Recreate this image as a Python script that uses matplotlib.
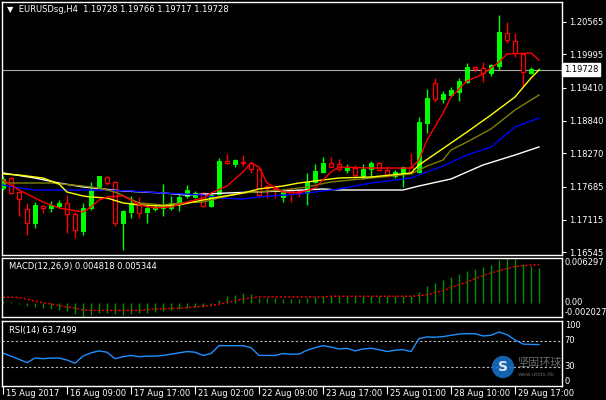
import numpy as np
import matplotlib
matplotlib.use("Agg")
import matplotlib.pyplot as plt
from matplotlib.transforms import ScaledTranslation

plt.rcParams['font.family'] = ['DejaVu Sans']

# --- EURUSD H4 candles (15 Aug 2017 01:00 onward) ---
opens = [1.17666, 1.17840, 1.17596, 1.17300, 1.17056, 1.17352, 1.17318, 1.17352, 1.17405, 1.17213,
         1.16917, 1.17318, 1.17684, 1.17858, 1.17771, 1.17056, 1.17248, 1.17405, 1.17248, 1.17300,
         1.17318, 1.17318, 1.17387, 1.17527, 1.17509, 1.17579, 1.17352, 1.17562, 1.18136, 1.18084,
         1.18115, 1.18102, 1.17997, 1.17701, 1.17684, 1.17509, 1.17631, 1.17614, 1.17579, 1.17771,
         1.17945, 1.18102, 1.18084, 1.17980, 1.18014, 1.17875, 1.17997, 1.18102, 1.17980, 1.17875,
         1.17910, 1.18032, 1.17945, 1.18799, 1.19496, 1.19217, 1.19287, 1.19340, 1.19514, 1.19775,
         1.19758, 1.19671, 1.19793, 1.20368, 1.20228, 1.20002, 1.19671, 1.19728]
highs = [1.17875, 1.17858, 1.17614, 1.17405, 1.17422, 1.17370, 1.17440, 1.17457, 1.17544, 1.17248,
         1.17405, 1.17771, 1.17880, 1.17875, 1.17788, 1.17283, 1.17527, 1.17509, 1.17352, 1.17370,
         1.17736, 1.17527, 1.17579, 1.17718, 1.17614, 1.17596, 1.17579, 1.18189, 1.18258, 1.18171,
         1.18241, 1.18119, 1.18014, 1.17718, 1.17718, 1.17631, 1.17666, 1.17649, 1.17927, 1.18084,
         1.18206, 1.18206, 1.18171, 1.18084, 1.18067, 1.18084, 1.18136, 1.18119, 1.18049, 1.17980,
         1.18049, 1.18276, 1.18904, 1.19392, 1.19583, 1.19357, 1.19427, 1.19583, 1.19845, 1.19793,
         1.19862, 1.19828, 1.20682, 1.20560, 1.20368, 1.20019, 1.19775, 1.19766]
lows = [1.17631, 1.17562, 1.17178, 1.16847, 1.16969, 1.17230, 1.17248, 1.17318, 1.16882, 1.16795,
        1.16847, 1.17283, 1.17666, 1.17718, 1.17004, 1.16586, 1.17143, 1.17143, 1.17056, 1.17265,
        1.17178, 1.17283, 1.17265, 1.17492, 1.17492, 1.17335, 1.17335, 1.17544, 1.18084, 1.18032,
        1.18049, 1.17927, 1.17509, 1.17492, 1.17492, 1.17422, 1.17422, 1.17509, 1.17370, 1.17753,
        1.17927, 1.18030, 1.17962, 1.17927, 1.17840, 1.17823, 1.17858, 1.17962, 1.17858, 1.17840,
        1.17684, 1.17927, 1.17927, 1.18625, 1.19165, 1.19148, 1.19252, 1.19183, 1.19496, 1.19688,
        1.19514, 1.19618, 1.19723, 1.20194, 1.19950, 1.19427, 1.19653, 1.19717]
closes = [1.17823, 1.17579, 1.17474, 1.17056, 1.17370, 1.17318, 1.17370, 1.17405, 1.17213, 1.16934,
          1.17318, 1.17631, 1.17875, 1.17753, 1.17056, 1.17265, 1.17405, 1.17230, 1.17318, 1.17335,
          1.17335, 1.17405, 1.17509, 1.17631, 1.17579, 1.17352, 1.17544, 1.18136, 1.18102, 1.18154,
          1.18102, 1.17997, 1.17544, 1.17666, 1.17649, 1.17596, 1.17562, 1.17579, 1.17771, 1.17962,
          1.18102, 1.18032, 1.17997, 1.18032, 1.17893, 1.17997, 1.18102, 1.17980, 1.17875, 1.17945,
          1.18032, 1.17945, 1.18817, 1.19235, 1.19217, 1.19305, 1.19374, 1.19531, 1.19775, 1.19740,
          1.19671, 1.19810, 1.20385, 1.20246, 1.20019, 1.19688, 1.19740, 1.19728]

# --- moving averages (read at selected bars) ---
red_idx = [0, 2, 5, 7, 10, 11, 12, 13, 15, 16, 17, 19, 21, 23, 25, 26, 28, 30, 31, 32,
           33, 35, 37, 39, 40, 41, 42, 46, 51, 52, 53, 55, 56, 58, 60, 62, 63, 66, 67]
red_val = [1.17806, 1.17631, 1.17422, 1.17318, 1.17248, 1.17335, 1.17457, 1.17509, 1.17527, 1.17457,
           1.17370, 1.17318, 1.17335, 1.17422, 1.17492, 1.17579, 1.17701, 1.17945, 1.18102, 1.18032,
           1.17753, 1.17596, 1.17579, 1.17666, 1.17806, 1.17945, 1.18032, 1.18014, 1.18014, 1.18154,
           1.18503, 1.18973, 1.19252, 1.19531, 1.19653, 1.19862, 1.20002, 1.20019, 1.19897]
yel_idx = [0, 2, 5, 7, 8, 10, 11, 13, 15, 17, 20, 22, 25, 27, 30, 32, 35, 37, 40, 42,
           46, 51, 52, 54, 58, 61, 64, 66, 67]
yel_val = [1.17910, 1.17893, 1.17840, 1.17736, 1.17596, 1.17527, 1.17509, 1.17492, 1.17405, 1.17370,
           1.17352, 1.17370, 1.17457, 1.17509, 1.17579, 1.17649, 1.17701, 1.17753, 1.17806, 1.17840,
           1.17858, 1.17927, 1.18067, 1.18258, 1.18642, 1.18939, 1.19252, 1.19583, 1.19723]
olv_idx = [0, 6, 10, 12, 14, 17, 20, 22, 25, 27, 30, 35, 38, 41, 46, 51, 53, 55, 56, 58, 61, 64, 67]
olv_val = [1.17753, 1.17753, 1.17701, 1.17666, 1.17596, 1.17405, 1.17370, 1.17405, 1.17422, 1.17492,
           1.17579, 1.17631, 1.17684, 1.17771, 1.17840, 1.17910, 1.18049, 1.18154, 1.18329, 1.18468,
           1.18695, 1.19026, 1.19287]
blu_idx = [0, 2, 4, 8, 12, 16, 20, 25, 27, 30, 32, 37, 42, 46, 51, 53, 55, 58, 61, 64, 67]
blu_val = [1.17718, 1.17666, 1.17631, 1.17631, 1.17631, 1.17614, 1.17579, 1.17544, 1.17492, 1.17474,
           1.17509, 1.17562, 1.17649, 1.17753, 1.17840, 1.17945, 1.18049, 1.18241, 1.18381, 1.18729,
           1.18886]
wht_idx = [0, 4, 7, 10, 15, 20, 23, 28, 35, 40, 42, 50, 52, 56, 60, 64, 67]
wht_val = [1.17927, 1.17840, 1.17753, 1.17684, 1.17614, 1.17579, 1.17544, 1.17579, 1.17614, 1.17649,
           1.17631, 1.17631, 1.17701, 1.17823, 1.18067, 1.18241, 1.18381]

# --- MACD(12,26,9) ---
macd = [0.0003, 0.0001, -0.0002, -0.0005, -0.0006, -0.0008, -0.0009, -0.0010, -0.0012, -0.0016,
        -0.0020, -0.0018, -0.0015, -0.0014, -0.0016, -0.0018, -0.0016, -0.0015, -0.0014, -0.0013,
        -0.0012, -0.0011, -0.0009, -0.0007, -0.0006, -0.0006, -0.0004, 0.0004, 0.0009, 0.0011,
        0.0013, 0.0012, 0.0007, 0.0006, 0.0006, 0.0005, 0.0005, 0.0005, 0.0006, 0.0008,
        0.0010, 0.0010, 0.0010, 0.0010, 0.0009, 0.0009, 0.0010, 0.0010, 0.0009, 0.0009,
        0.0010, 0.0009, 0.0015, 0.0023, 0.0028, 0.0032, 0.0036, 0.0040, 0.0045, 0.0048,
        0.0050, 0.0053, 0.0060, 0.006297, 0.0061, 0.0055, 0.0052, 0.004818]
signal = [0.00075, 0.00075, 0.00074, 0.0005, 0.0002, 0.0000, -0.0002, -0.0004, -0.0006, -0.0008,
          -0.0010, -0.0011, -0.0011, -0.0011, -0.0011, -0.0011, -0.0011, -0.0011, -0.0010, -0.0009,
          -0.0009, -0.0008, -0.0008, -0.0007, -0.0006, -0.0005, -0.0004, -0.0002, 0.0000, 0.0003,
          0.0005, 0.0007, 0.0008, 0.0008, 0.0008, 0.0008, 0.0008, 0.0008, 0.0008, 0.0008,
          0.0008, 0.0009, 0.0009, 0.0009, 0.0009, 0.0009, 0.0009, 0.0009, 0.0009, 0.0009,
          0.0009, 0.0009, 0.0010, 0.0011, 0.0014, 0.0017, 0.0021, 0.0025, 0.0029, 0.0034,
          0.0038, 0.0042, 0.0045, 0.0048, 0.0051, 0.0052, 0.0053, 0.005344]

# --- RSI(14) ---
rsi = [50.6, 46, 41, 36, 43, 42, 43, 43, 40, 35,
       46, 51, 54, 52, 42, 45, 47, 45, 46, 46,
       47, 49, 51, 53, 52, 47, 50, 62, 62, 62,
       62, 59, 47, 47, 47, 50, 49, 49, 55, 59,
       62, 60, 57, 58, 54, 57, 58, 56, 53, 55,
       56, 53, 73, 75.5, 75, 76, 78, 80, 80.5, 80.5,
       77, 78, 83, 79, 71, 64.5, 64, 63.7499]

price_ticks = [1.20565, 1.19995, 1.19410, 1.18840, 1.18270, 1.17685, 1.17115, 1.16545]
last_price = 1.19728
time_pos = [0, 8, 16, 24, 32, 40, 48, 56, 64]
time_labels = ['15 Aug 2017', '16 Aug 09:00', '17 Aug 17:00', '21 Aug 02:00', '22 Aug 09:00',
               '23 Aug 17:00', '25 Aug 01:00', '28 Aug 10:00', '29 Aug 17:00']

W, H = 606, 400
fig = plt.figure(figsize=(W / 100, H / 100), dpi=100, facecolor='black')


def pane(x0, y0, x1, y1):
    ax = fig.add_axes([x0 / W, 1 - y1 / H, (x1 - x0) / W, (y1 - y0) / H])
    ax.set_facecolor('black')
    for s in ax.spines.values():
        s.set_color('white')
        s.set_linewidth(1)
    ax.set_xlim(-0.125, 69.875)
    ax.set_xticks([])
    ax.yaxis.tick_right()
    ax.tick_params(axis='y', colors='white', labelsize=6, length=3, width=0.8, pad=2)
    return ax


x = np.arange(len(closes))
o, h, l, c = map(np.array, (opens, highs, lows, closes))
bull = c >= o

# main price pane
ax = pane(2, 2, 562, 255)
ax.set_ylim(1.16498, 1.20908)
ax.axhline(last_price, color='#a8a8a8', lw=0.8, zorder=1)
ax.vlines(x, l, h, colors=np.where(bull, '#00ff00', '#ff0000'), lw=1, zorder=2)
ax.bar(x[bull], (c - o)[bull], bottom=o[bull], width=0.55, color='#00ff00',
       edgecolor='#00ff00', lw=0.7, zorder=3)
ax.bar(x[~bull], (o - c)[~bull], bottom=c[~bull], width=0.55, facecolor='black',
       edgecolor='#ff0000', lw=0.9, zorder=3)
ax.plot(wht_idx, wht_val, color='white', lw=1, zorder=4)
ax.plot(blu_idx, blu_val, color='#0000ff', lw=1, zorder=4)
ax.plot(olv_idx, olv_val, color='#808000', lw=1, zorder=4)
ax.plot(yel_idx, yel_val, color='#ffff00', lw=1, zorder=4)
ax.plot(red_idx, red_val, color='#ff0000', lw=1, zorder=4)
ax.set_yticks(price_ticks)
ax.set_yticklabels([f'{v:.5f}' for v in price_ticks])
ax.text(1.003, last_price, f'{last_price:.5f}', transform=ax.get_yaxis_transform(),
        color='black', fontsize=6, va='center', ha='left',
        bbox=dict(boxstyle='square,pad=0.25', fc='white', ec='white'))
fig.text(7 / W, 1 - 10 / H, '\u25bc  EURUSDsg,H4  1.19728 1.19766 1.19717 1.19728',
         color='white', fontsize=6, va='center', ha='left')

# MACD pane
am = pane(2, 258, 562, 317)
am.set_ylim(-0.002027, 0.006297)
am.vlines(x, 0, macd, colors='#009000', lw=1)
am.plot(x, signal, color='#ff0000', lw=1, ls=(0, (1.5, 1.5)))
am.set_yticks([0.006297, 0.0, -0.002027])
am.set_yticklabels(['0.006297', '0.00', '-0.002027'])
for lbl, va in zip(am.get_yticklabels(), ['top', 'center', 'bottom']):
    lbl.set_va(va)
am.tick_params(axis='y', length=0)
am.text(7 / 560, 0.86, 'MACD(12,26,9) 0.004818 0.005344', transform=am.transAxes,
        color='white', fontsize=6, va='center', ha='left')

# RSI pane
ar = pane(2, 321, 562, 386)
ar.set_ylim(0, 100)
ar.axhline(70, color='#c0c0c0', lw=0.8, ls=(0, (2, 2)))
ar.axhline(30, color='#c0c0c0', lw=0.8, ls=(0, (2, 2)))
ar.plot(x, rsi, color='#1e90ff', lw=1)
ar.set_yticks([100, 70, 30, 0])
ar.set_yticklabels(['100', '70', '30', '0'])
for lbl, va in zip(ar.get_yticklabels(), ['top', 'center', 'center', 'bottom']):
    lbl.set_va(va)
ar.get_yticklabels()[-1].set_transform(
    ar.get_yticklabels()[-1].get_transform() + ScaledTranslation(0, 4 / 100, fig.dpi_scale_trans))
ar.tick_params(axis='y', length=0)
ar.text(7 / 560, 0.86, 'RSI(14) 63.7499', transform=ar.transAxes,
        color='white', fontsize=6, va='center', ha='left')
ar.set_xticks(time_pos)
ar.set_xticklabels(time_labels, ha='left')
ar.tick_params(axis='x', colors='white', labelsize=6, length=6, width=0.8, pad=-4)
for lbl in ar.get_xticklabels():
    lbl.set_transform(lbl.get_transform() + ScaledTranslation(3 / 100, 0, fig.dpi_scale_trans))

# watermark
fig.text(503 / W, 1 - 367 / H, 'S', color='white', fontsize=10, fontweight='bold',
         ha='center', va='center', alpha=0.85,
         bbox=dict(boxstyle='circle,pad=0.3', fc='#1874cd', ec='none', alpha=0.85))
fig.text(517 / W, 1 - 363 / H, '坚固环球', color='#9a9a9a', fontsize=8, alpha=0.7,
         ha='left', va='center', family=['Noto Sans CJK SC', 'DejaVu Sans'])
fig.text(518 / W, 1 - 375 / H, 'www.utidx.hk', color='#8a8a8a', fontsize=4, alpha=0.7,
         ha='left', va='center')

fig.savefig('out.png', dpi=100, facecolor='black')
